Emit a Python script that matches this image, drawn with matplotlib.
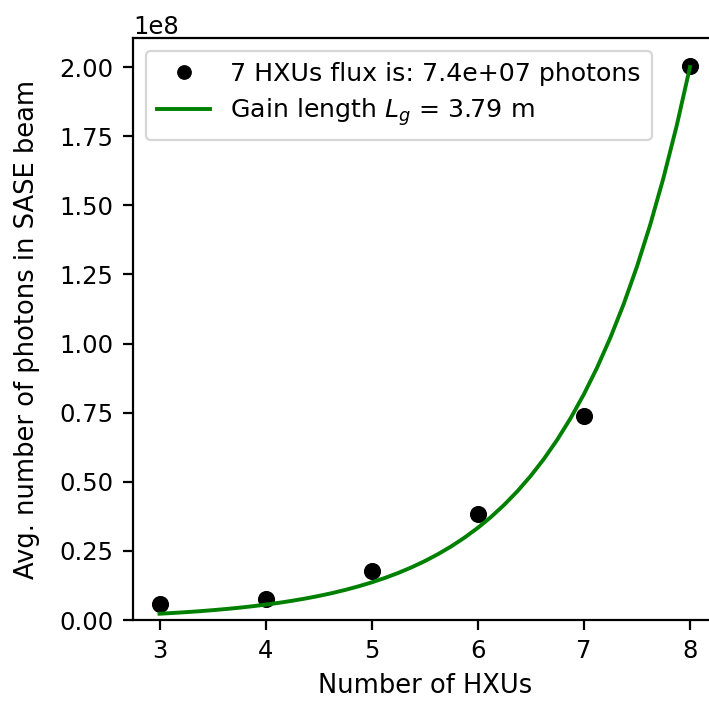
import numpy as np
import matplotlib
matplotlib.use("Agg")
import matplotlib.pyplot as plt

# --- data ---
n_hxu = [3, 4, 5, 6, 7, 8]
photons = [0.0576e8, 0.0746e8, 0.178e8, 0.382e8, 0.737e8, 2.004e8]

# fitted exponential curve, read every 1/8 HXU
fit_x = np.linspace(3, 8, 41)
fit_y = np.array([
    0.0227, 0.0254, 0.0284, 0.0317, 0.0355, 0.0397, 0.0444, 0.0497,
    0.0555, 0.0621, 0.0695, 0.0777, 0.0869, 0.0972, 0.1088, 0.1217,
    0.1361, 0.1522, 0.1702, 0.1904, 0.2130, 0.2382, 0.2664, 0.2980,
    0.3333, 0.3728, 0.4170, 0.4664, 0.5217, 0.5835, 0.6527, 0.7300,
    0.8166, 0.9133, 1.0216, 1.1426, 1.2780, 1.4295, 1.5990, 1.7880,
    2.0000]) * 1e8

flux_7 = 7.4e7
gain_length = 3.79

plt.rcParams.update({
    'font.family': 'DejaVu Sans',
    'font.size': 17.5,
    'axes.linewidth': 1.6,
    'xtick.major.width': 1.6,
    'ytick.major.width': 1.6,
    'xtick.major.size': 7,
    'ytick.major.size': 7,
    'xtick.major.pad': 7,
    'ytick.major.pad': 7,
})

fig = plt.figure(figsize=(7.09, 7.02), dpi=100)
ax = fig.add_axes([133 / 709, 82 / 702, 583.5 / 709, 582 / 702])

ax.plot(n_hxu, photons, 'o', color='black', markersize=11.3,
        label=f'7 HXUs flux is: {flux_7:.1e} photons')
ax.plot(fit_x, fit_y, '-', color='green', linewidth=2.8,
        label=f'Gain length $L_g$ = {gain_length:.2f} m')

ax.set_xlim(2.75, 8.25)
ax.set_ylim(0, 2.105e8)
ax.set_xticks(n_hxu)
ax.set_xlabel('Number of HXUs', fontsize=18.5, labelpad=7)
ax.set_ylabel('Avg. number of photons in SASE beam', fontsize=18.5,
              labelpad=14)

leg = ax.legend(loc='upper left', fontsize=18.2, markerscale=0.85,
                borderpad=0.45, labelspacing=0.42, handlelength=2.1,
                framealpha=0.8)
leg.get_frame().set_linewidth(1.6)

fig.savefig('out.png', dpi=100)
